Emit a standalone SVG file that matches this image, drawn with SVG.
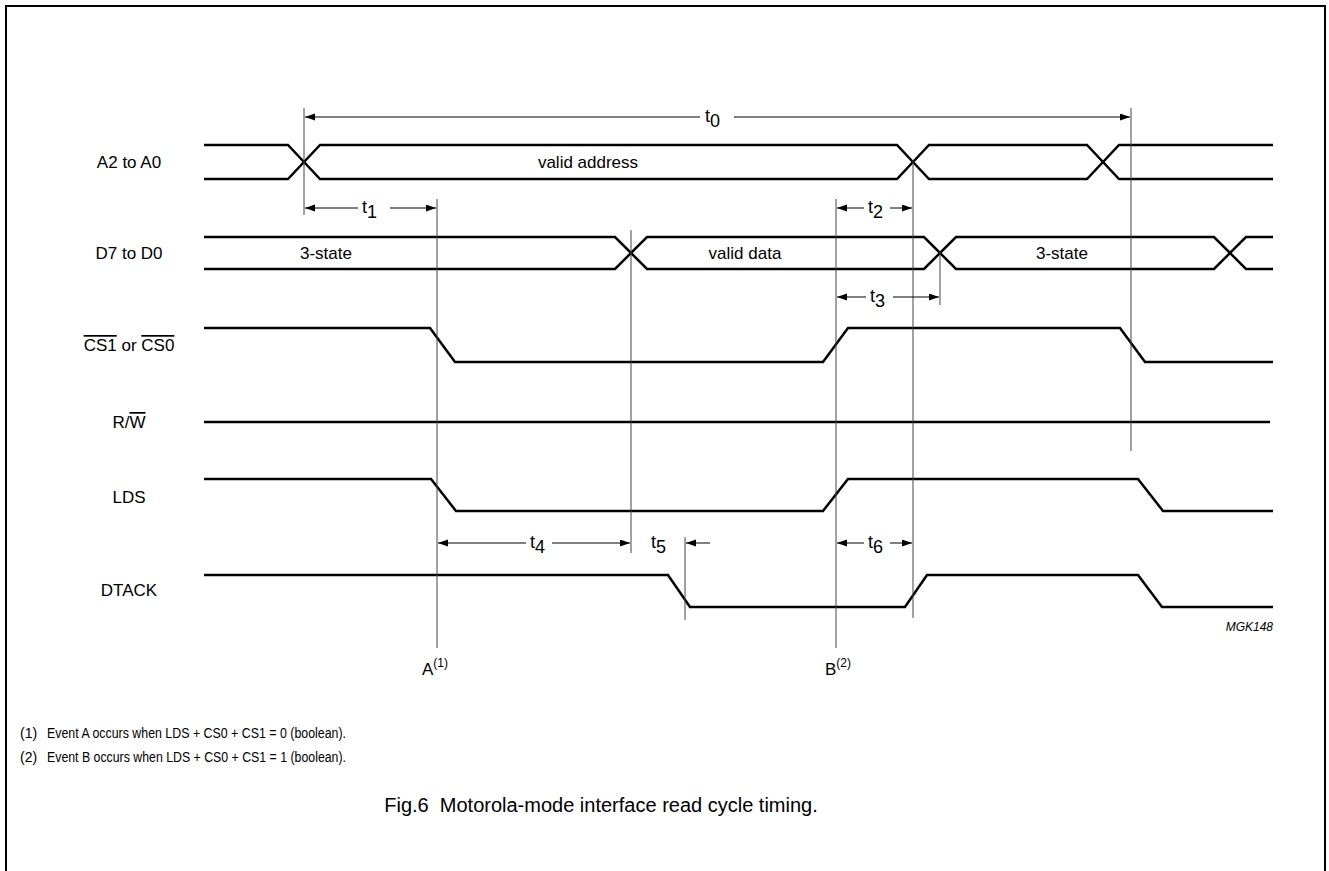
<svg xmlns="http://www.w3.org/2000/svg" width="1329" height="871" viewBox="0 0 1329 871">
<style>
.sig{fill:none;stroke:#000;stroke-width:2.5;stroke-linejoin:miter}
.ref{stroke:#444;stroke-width:1;fill:none}
.dim{stroke:#000;stroke-width:1;fill:none;marker-end:url(#ah)}
text{font-family:"Liberation Sans",Arial,Helvetica,sans-serif;fill:#000}
.lbl{font-size:17px}
.t{font-size:18px}
.sup{font-size:12px}
.note{font-size:14px}
.cap{font-size:20px}
.id{font-size:12px;font-style:italic}
.ov{text-decoration:overline}
</style>
<defs>
<marker id="ah" markerUnits="userSpaceOnUse" markerWidth="11" markerHeight="8" refX="10" refY="3.5" orient="auto">
<path d="M0,0 L10,3.5 L0,7 z" fill="#000"/>
</marker>
</defs>
<g id="frame">
<path d="M6,871 V6 H1325 V871" fill="none" stroke="#000" stroke-width="2"/>
</g>
<g id="labels">
<text class="lbl" x="129" y="168" text-anchor="middle">A2 to A0</text>
<text class="lbl" x="129" y="259" text-anchor="middle">D7 to D0</text>
<text class="lbl" x="129" y="351" text-anchor="middle"><tspan class="ov">CS1</tspan> or <tspan class="ov">CS0</tspan></text>
<text class="lbl" x="129" y="428" text-anchor="middle">R/<tspan class="ov">W</tspan></text>
<text class="lbl" x="129" y="503" text-anchor="middle">LDS</text>
<text class="lbl" x="129" y="596" text-anchor="middle">DTACK</text>
</g>
<g id="sig-addr">
<path class="sig" d="M204,145 H288 L304,162 L320,145 H897 L913,162 L929,145 H1087 L1103,162 L1119,145 H1273"/>
<path class="sig" d="M204,179 H288 L304,162 L320,179 H897 L913,162 L929,179 H1087 L1103,162 L1119,179 H1273"/>
<text class="lbl" x="588" y="168" text-anchor="middle">valid address</text>
</g>
<g id="sig-data">
<path class="sig" d="M204,237 H615 L631,253 L647,237 H924 L940,253 L956,237 H1214 L1230,253 L1246,237 H1273"/>
<path class="sig" d="M204,269 H615 L631,253 L647,269 H924 L940,253 L956,269 H1214 L1230,253 L1246,269 H1273"/>
<text class="lbl" x="326" y="259" text-anchor="middle">3-state</text>
<text class="lbl" x="745" y="259" text-anchor="middle">valid data</text>
<text class="lbl" x="1062" y="259" text-anchor="middle">3-state</text>
</g>
<g id="sig-cs">
<path class="sig" d="M204,328 H430 L455,362 H823 L848,328 H1120 L1145,362 H1273"/>
</g>
<g id="sig-rw">
<path class="sig" d="M204,422 H1270"/>
</g>
<g id="sig-lds">
<path class="sig" d="M204,479 H431 L456,511 H823 L848,479 H1138 L1163,511 H1273"/>
</g>
<g id="sig-dtack">
<path class="sig" d="M204,575 H668 L690,607 H905 L927,575 H1138 L1162,607 H1273"/>
</g>
<g id="connectors">
<line class="ref" x1="304" y1="108" x2="304" y2="215"/>
<line class="ref" x1="437" y1="199" x2="437" y2="648"/>
<line class="ref" x1="631" y1="230" x2="631" y2="553"/>
<line class="ref" x1="685" y1="537" x2="685" y2="620"/>
<line class="ref" x1="836" y1="199" x2="836" y2="648"/>
<line class="ref" x1="913" y1="160" x2="913" y2="618"/>
<line class="ref" x1="940" y1="251" x2="940" y2="305"/>
<line class="ref" x1="1131" y1="108" x2="1131" y2="451"/>
<path class="dim" d="M700,117 H305"/>
<path class="dim" d="M734,117 H1130"/>
<path class="dim" d="M358,208 H305"/>
<path class="dim" d="M390,208 H436"/>
<path class="dim" d="M864,208 H837"/>
<path class="dim" d="M890,208 H912"/>
<path class="dim" d="M866,297 H837"/>
<path class="dim" d="M893,297 H939"/>
<path class="dim" d="M526,543 H438"/>
<path class="dim" d="M552,543 H630"/>
<path class="dim" d="M710,543 H686"/>
<path class="dim" d="M864,543 H837"/>
<path class="dim" d="M890,543 H912"/>
</g>
<g id="timing-labels">
<text class="t" x="705" y="122">t<tspan dy="5">0</tspan></text>
<text class="t" x="362" y="213">t<tspan dy="5">1</tspan></text>
<text class="t" x="868" y="213">t<tspan dy="5">2</tspan></text>
<text class="t" x="870" y="302">t<tspan dy="5">3</tspan></text>
<text class="t" x="530" y="548">t<tspan dy="5">4</tspan></text>
<text class="t" x="651" y="548">t<tspan dy="5">5</tspan></text>
<text class="t" x="868" y="548">t<tspan dy="5">6</tspan></text>
</g>
<g id="events">
<text class="lbl" x="422" y="675">A<tspan class="sup" dy="-8">(1)</tspan></text>
<text class="lbl" x="825" y="675">B<tspan class="sup" dy="-8">(2)</tspan></text>
</g>
<text class="id" x="1273" y="631" text-anchor="end">MGK148</text>
<g id="notes">
<text class="note" y="738"><tspan x="20">(1)</tspan><tspan x="47" textLength="299" lengthAdjust="spacingAndGlyphs">Event A occurs when LDS + CS0 + CS1 = 0 (boolean).</tspan></text>
<text class="note" y="762"><tspan x="20">(2)</tspan><tspan x="47" textLength="299" lengthAdjust="spacingAndGlyphs">Event B occurs when LDS + CS0 + CS1 = 1 (boolean).</tspan></text>
</g>
<text class="cap" x="601" y="812" text-anchor="middle" xml:space="preserve">Fig.6  Motorola-mode interface read cycle timing.</text>
</svg>
